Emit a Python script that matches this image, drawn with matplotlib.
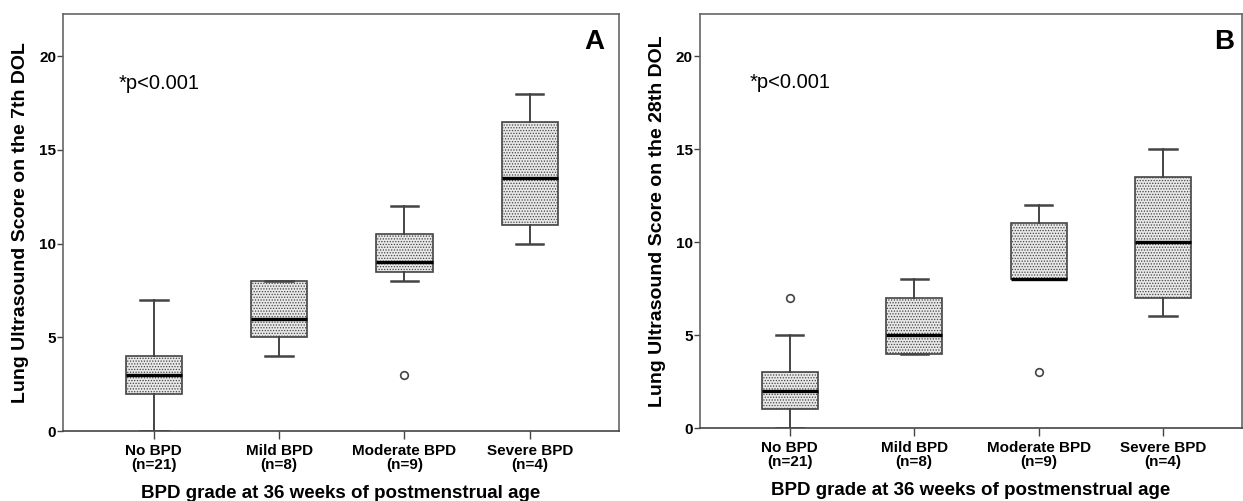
import matplotlib
matplotlib.use('Agg')
import matplotlib.pyplot as plt

plt.rcParams['font.family'] = ['Liberation Sans', 'DejaVu Sans']
plt.rcParams['hatch.color'] = '#7a7a7a'
plt.rcParams['hatch.linewidth'] = 0.6

# 类别与样本量
groups = ['No BPD\n(n=21)', 'Mild BPD\n(n=8)', 'Moderate BPD\n(n=9)', 'Severe BPD\n(n=4)']

# 图A：第7天肺超声评分 (whislo, q1, med, q3, whishi)
a_whislo = [0, 4, 8, 10]
a_q1 = [2, 5, 8.5, 11]
a_med = [3, 6, 9, 13.5]
a_q3 = [4, 8, 10.5, 16.5]
a_whishi = [7, 8, 12, 18]
a_fliers = [[], [], [3], []]

# 图B：第28天肺超声评分
b_whislo = [0, 4, 8, 6]
b_q1 = [1, 4, 8, 7]
b_med = [2, 5, 8, 10]
b_q3 = [3, 7, 11, 13.5]
b_whishi = [5, 8, 12, 15]
b_fliers = [[7], [], [3], []]

yticks = [0, 5, 10, 15, 20]


def make_stats(whislo, q1, med, q3, whishi, fliers):
    stats = []
    for i in range(len(med)):
        stats.append(dict(whislo=whislo[i], q1=q1[i], med=med[i], q3=q3[i],
                          whishi=whishi[i], fliers=fliers[i]))
    return stats


def draw_panel(ax, stats, ylabel, letter, ptext_x):
    edge = '#444444'
    ax.bxp(stats, positions=range(len(stats)), widths=0.45, patch_artist=True,
           showfliers=True,
           boxprops=dict(facecolor='#e8e8e8', edgecolor=edge, linewidth=1.2, hatch='......'),
           medianprops=dict(color='black', linewidth=2.4),
           whiskerprops=dict(color=edge, linewidth=1.4),
           capprops=dict(color=edge, linewidth=1.8),
           capwidths=0.22,
           flierprops=dict(marker='o', markersize=5.5, markerfacecolor='white',
                           markeredgecolor=edge, markeredgewidth=1.2))
    ax.set_xlim(-0.725, 3.71)
    ax.set_ylim(0, 22.25)
    ax.set_yticks(yticks)
    ax.set_xticks(range(len(groups)))
    ax.set_xticklabels(groups, fontsize=11, fontweight='bold', linespacing=1.05)
    ax.tick_params(axis='y', labelsize=11, length=4, width=1, color=edge, pad=1)
    ax.tick_params(axis='x', length=6, width=1, color=edge, pad=3)
    for lab in ax.get_yticklabels():
        lab.set_fontweight('bold')
    for sp in ax.spines.values():
        sp.set_color('#666666')
        sp.set_linewidth(1.2)
    ax.spines['bottom'].set_color('#444444')
    ax.set_ylabel(ylabel, fontsize=14, fontweight='bold', labelpad=7)
    ax.set_xlabel('BPD grade at 36 weeks of postmenstrual age', fontsize=13.5,
                  fontweight='bold', labelpad=9)
    ax.text(ptext_x, 18.57, '*p<0.001', fontsize=14.5, va='center', ha='left')
    ax.text(0.975, 0.933, letter, transform=ax.transAxes, fontsize=20,
            fontweight='bold', ha='right', va='center')


fig = plt.figure(figsize=(12.43, 5.01), dpi=100)
ax1 = fig.add_axes([0.0507, 0.1397, 0.447, 0.832])
ax2 = fig.add_axes([0.5628, 0.1457, 0.4365, 0.826])

draw_panel(ax1, make_stats(a_whislo, a_q1, a_med, a_q3, a_whishi, a_fliers),
           'Lung Ultrasound Score on the 7th DOL', 'A', -0.28)
draw_panel(ax2, make_stats(b_whislo, b_q1, b_med, b_q3, b_whishi, b_fliers),
           'Lung Ultrasound Score on the 28th DOL', 'B', -0.32)
ax2.set_xlim(-0.725, 3.635)
ax2.texts[-1].set_position((0.985, 0.933))

fig.savefig('out.png', dpi=100)
